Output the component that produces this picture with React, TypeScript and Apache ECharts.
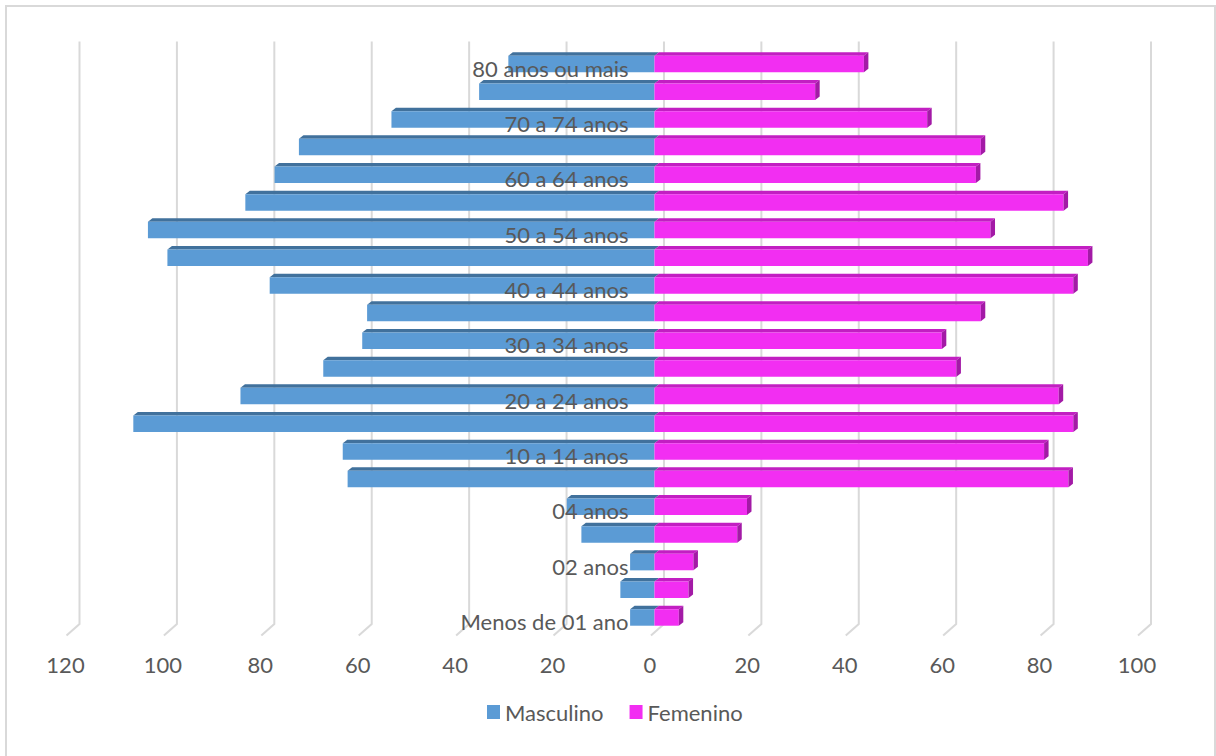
import React, { useEffect, useRef } from "react";
import * as echarts from "echarts";

// Age groups, bottom to top
const categories = [
  "Menos de 01 ano",
  "01 ano",
  "02 anos",
  "03 anos",
  "04 anos",
  "05 a 09 anos",
  "10 a 14 anos",
  "15 a 19 anos",
  "20 a 24 anos",
  "25 a 29 anos",
  "30 a 34 anos",
  "35 a 39 anos",
  "40 a 44 anos",
  "45 a 49 anos",
  "50 a 54 anos",
  "55 a 59 anos",
  "60 a 64 anos",
  "65 a 69 anos",
  "70 a 74 anos",
  "75 a 79 anos",
  "80 anos ou mais",
];

const masculino = [5, 7, 5, 15, 18, 63, 64, 107, 85, 68, 60, 59, 79, 100, 104, 84, 78, 73, 54, 36, 30];
const femenino = [5, 7, 8, 17, 19, 85, 80, 86, 83, 62, 59, 67, 86, 89, 69, 84, 66, 67, 56, 33, 43];

const xTicks = [-120, -100, -80, -60, -40, -20, 0, 20, 40, 60, 80, 100];

const FONT = "Lato, 'Open Sans', sans-serif";
const TEXT = "#595959";
const GRID = "#d9d9d9";

const BLUE = { front: "#5b9bd5", top: "#41719c", side: "#41719c" };
const PINK = { front: "#f22ef2", top: "#c21fc2", side: "#a31aa6" };

const DX = 4.5;
const DY = 3.5;
const BAR_H = 16.5;

function makeBarRender(colors: any, showSide: boolean) {
  return (params: any, api: any) => {
    const v = api.value(0);
    const c = api.value(1);
    const p0 = api.coord([0, c]);
    const p1 = api.coord([v, c]);
    const xl = Math.min(p0[0], p1[0]);
    const xr = Math.max(p0[0], p1[0]);
    const y0 = p0[1] - BAR_H / 2;
    const y1 = y0 + BAR_H;
    const children: any[] = [
      {
        type: "polygon",
        shape: { points: [[xl, y0], [xl + DX, y0 - DY], [xr + DX, y0 - DY], [xr, y0]] },
        style: { fill: colors.top },
      },
      {
        type: "rect",
        shape: { x: xl, y: y0, width: xr - xl, height: BAR_H },
        style: { fill: colors.front },
      },
    ];
    if (showSide) {
      children.push({
        type: "polygon",
        shape: { points: [[xr, y0], [xr + DX, y0 - DY], [xr + DX, y1 - DY], [xr, y1]] },
        style: { fill: colors.side },
      });
    }
    return { type: "group", children };
  };
}

export default function App() {
  const ref = useRef<HTMLDivElement>(null);

  useEffect(() => {
    document.body.style.margin = "0";
    if (!ref.current) return;
    const chart = echarts.init(ref.current, undefined, { renderer: "svg" });

    const option: any = {
      animation: false,
      backgroundColor: "#ffffff",
      textStyle: { fontFamily: FONT },
      graphic: [
        {
          type: "rect",
          shape: { x: 6, y: 6, width: 1209, height: 800 },
          style: { fill: "none", stroke: GRID, lineWidth: 2 },
          z: -1,
          silent: true,
        },
      ],
      grid: { left: 70, right: 74.5, top: 50.2, bottom: 124.7 },
      legend: {
        data: ["Masculino", "Femenino"],
        left: 482,
        top: 695,
        icon: "rect",
        itemWidth: 13,
        itemHeight: 14,
        itemGap: 26,
        textStyle: { color: TEXT, fontSize: 22, fontFamily: FONT, lineHeight: 24 },
      },
      xAxis: {
        type: "value",
        min: -120,
        max: 100,
        interval: 20,
        axisLine: { show: false },
        axisTick: { show: false },
        splitLine: { show: false },
        axisLabel: {
          color: TEXT,
          fontSize: 22,
          fontFamily: FONT,
          lineHeight: 22,
          margin: 22,
          padding: [0, 9, 0, 0],
          formatter: (v: number) => String(Math.abs(v)),
        },
      },
      yAxis: {
        type: "category",
        data: categories,
        position: "left",
        offset: -584.5,
        z: 10,
        axisLine: { show: false },
        axisTick: { show: false },
        splitLine: { show: false },
        axisLabel: {
          interval: 1,
          margin: 26,
          formatter: (v: string) => `{a|${v}}`,
          rich: {
            a: {
              color: TEXT,
              fontSize: 22,
              fontFamily: FONT,
              lineHeight: 22,
              padding: [8, 0, 0, 0],
            },
          },
        },
      },
      series: [
        {
          type: "custom",
          name: "grid",
          silent: true,
          z: 1,
          encode: { x: 0, y: 1 },
          data: xTicks.map((v) => [v, 0]),
          renderItem: (params: any, api: any) => {
            const cs = params.coordSys;
            const x = api.coord([api.value(0), 0])[0] + 9.5;
            const top = cs.y - 8.7;
            const bottom = cs.y + cs.height - 7.3;
            return {
              type: "polyline",
              shape: { points: [[x, top], [x, bottom], [x - 13, bottom + 11.5]] },
              style: { stroke: GRID, lineWidth: 2, fill: "none" },
            };
          },
        },
        {
          type: "custom",
          name: "Masculino",
          z: 2,
          itemStyle: { color: BLUE.front },
          encode: { x: 0, y: 1 },
          data: masculino.map((v, i) => [-v, i]),
          renderItem: makeBarRender(BLUE, false),
        },
        {
          type: "custom",
          name: "Femenino",
          z: 3,
          itemStyle: { color: PINK.front },
          encode: { x: 0, y: 1 },
          data: femenino.map((v, i) => [v, i]),
          renderItem: makeBarRender(PINK, true),
        },
      ],
    };

    chart.setOption(option);
    return () => chart.dispose();
  }, []);

  return <div ref={ref} style={{ width: 1216, height: 756 }} />;
}
